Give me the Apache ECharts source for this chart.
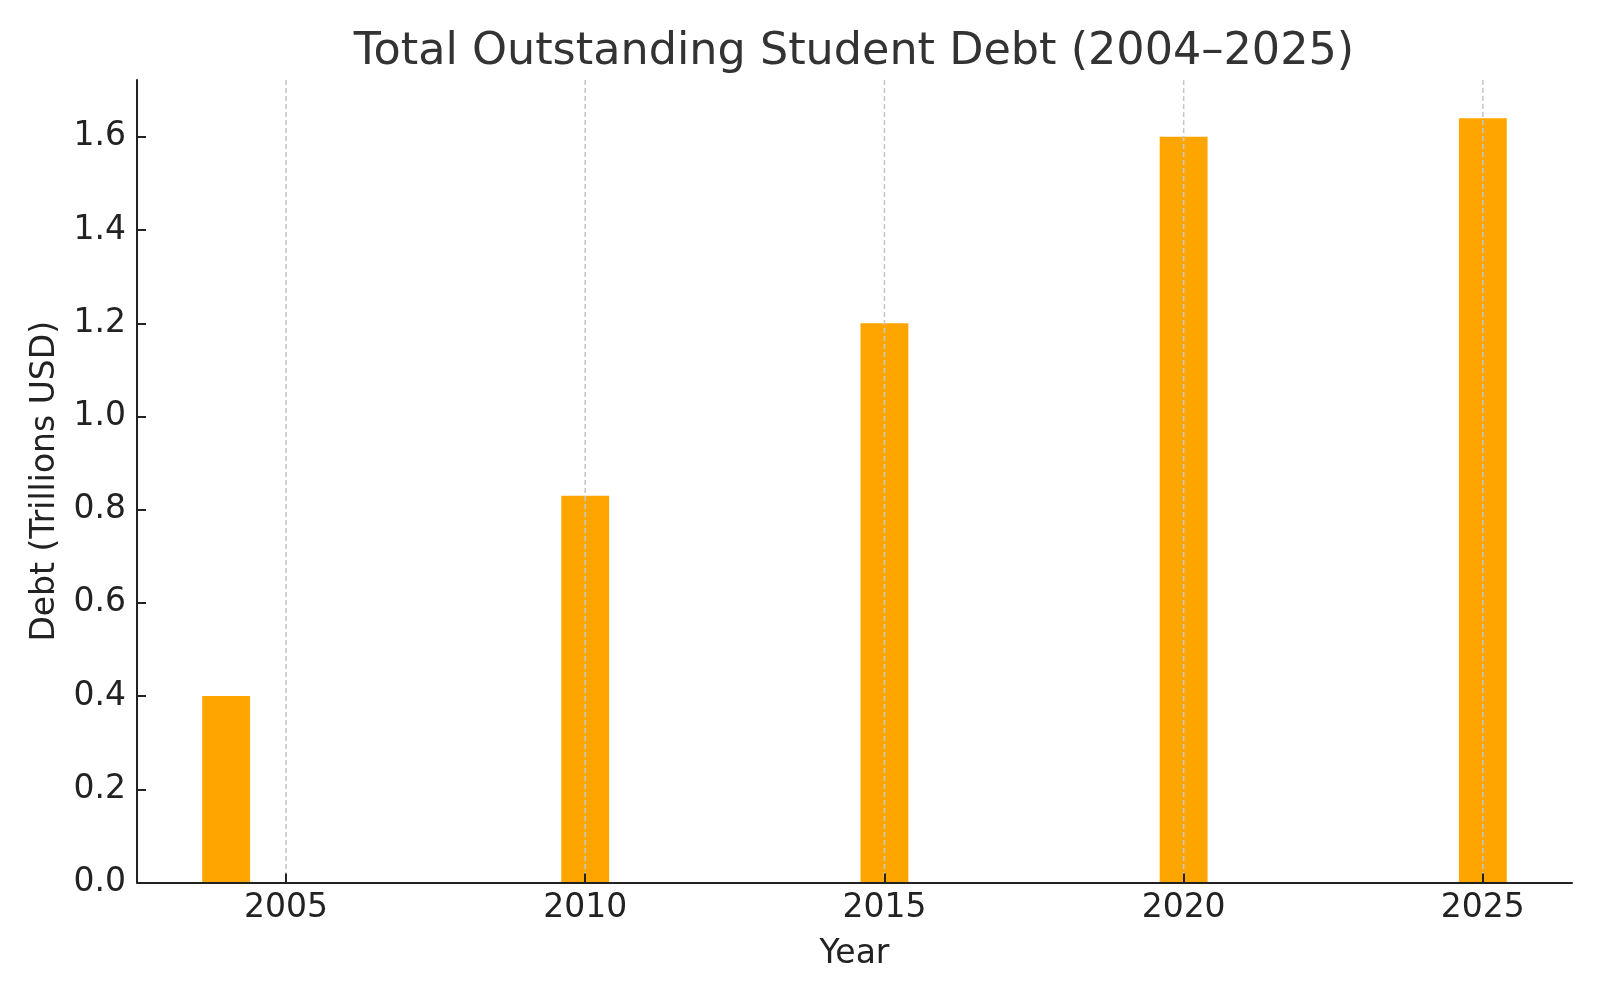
<!DOCTYPE html>
<html>
<head>
<meta charset="utf-8">
<title>Total Outstanding Student Debt</title>
<script src="https://cdn.jsdelivr.net/npm/echarts@6/dist/echarts.min.js"></script>
<style>
  html, body { margin: 0; padding: 0; background: #fff; }
  #chart { width: 1600px; height: 1000px; }
</style>
</head>
<body>
<div id="chart"></div>
<script>
// data
const years = [2004, 2010, 2015, 2020, 2025];
const debt = [0.40, 0.83, 1.20, 1.60, 1.64];
const xTicks = [2005, 2010, 2015, 2020, 2025];
const yTicks = [0, 0.2, 0.4, 0.6, 0.8, 1.0, 1.2, 1.4, 1.6];

const BAR_W = 0.8; // years
const FONT = 'DejaVu Sans';
const INK = '#222222';

// matplotlib-ish padding (5% of data span on both sides)
const xMin = 2003.6 - 0.05 * 21.8;
const xMax = 2025.4 + 0.05 * 21.8;
const yMax = 1.64 * 1.05;

const chart = echarts.init(document.getElementById('chart'));

chart.setOption({
  animation: false,
  backgroundColor: '#ffffff',
  title: {
    text: 'Total Outstanding Student Debt (2004\u20132025)',
    left: 849,
    textAlign: 'center',
    top: 25,
    textStyle: { fontFamily: FONT, fontSize: 44.5, fontWeight: 'normal', color: '#333333' },
  },
  grid: { left: 137, right: 28, top: 80, bottom: 117.5, containLabel: false },
  xAxis: {
    type: 'value',
    min: xMin,
    max: xMax,
    z: 10,
    name: 'Year',
    nameLocation: 'middle',
    nameGap: 55,
    nameTextStyle: { fontFamily: FONT, fontSize: 33, color: INK },
    axisLine: { show: true, lineStyle: { color: INK, width: 2 } },
    axisTick: { show: true, inside: true, length: 9, customValues: xTicks, lineStyle: { color: INK, width: 2 } },
    axisLabel: {
      customValues: xTicks,
      margin: 9,
      fontFamily: FONT, fontSize: 33, color: INK,
      formatter: v => String(Math.round(v)),
    },
    splitLine: { show: false },
  },
  yAxis: {
    type: 'value',
    min: 0,
    max: yMax,
    z: 10,
    name: 'Debt (Trillions USD)',
    nameLocation: 'middle',
    nameGap: 75,
    nameTextStyle: { fontFamily: FONT, fontSize: 33, color: INK },
    axisLine: { show: true, lineStyle: { color: INK, width: 2 } },
    axisTick: { show: true, inside: true, length: 9, customValues: yTicks, lineStyle: { color: INK, width: 2 } },
    axisLabel: {
      customValues: yTicks,
      margin: 11,
      fontFamily: FONT, fontSize: 33, color: INK,
      formatter: v => v.toFixed(1),
    },
    splitLine: { show: false },
  },
  series: [
    {
      type: 'custom',
      name: 'Debt',
      z: 2,
      data: years.map((y, i) => [y, debt[i]]),
      renderItem: (params, api) => {
        const x = api.value(0);
        const v = api.value(1);
        const p0 = api.coord([x - BAR_W / 2, v]);
        const p1 = api.coord([x + BAR_W / 2, 0]);
        return {
          type: 'rect',
          shape: { x: p0[0], y: p0[1], width: p1[0] - p0[0], height: p1[1] - p0[1] },
          style: { fill: '#FFA500' },
        };
      },
    },
    {
      // dashed vertical grid drawn over the bars
      type: 'custom',
      name: 'grid',
      z: 3,
      silent: true,
      data: xTicks.map(t => [t, 0]),
      renderItem: (params, api) => {
        const top = api.coord([api.value(0), yMax]);
        const bot = api.coord([api.value(0), 0]);
        return {
          type: 'line',
          shape: { x1: top[0], y1: top[1], x2: bot[0], y2: bot[1] },
          style: { stroke: '#c8c8c8', lineWidth: 1.6, lineDash: [5, 3] },
        };
      },
    },
  ],
});
</script>
</body>
</html>
